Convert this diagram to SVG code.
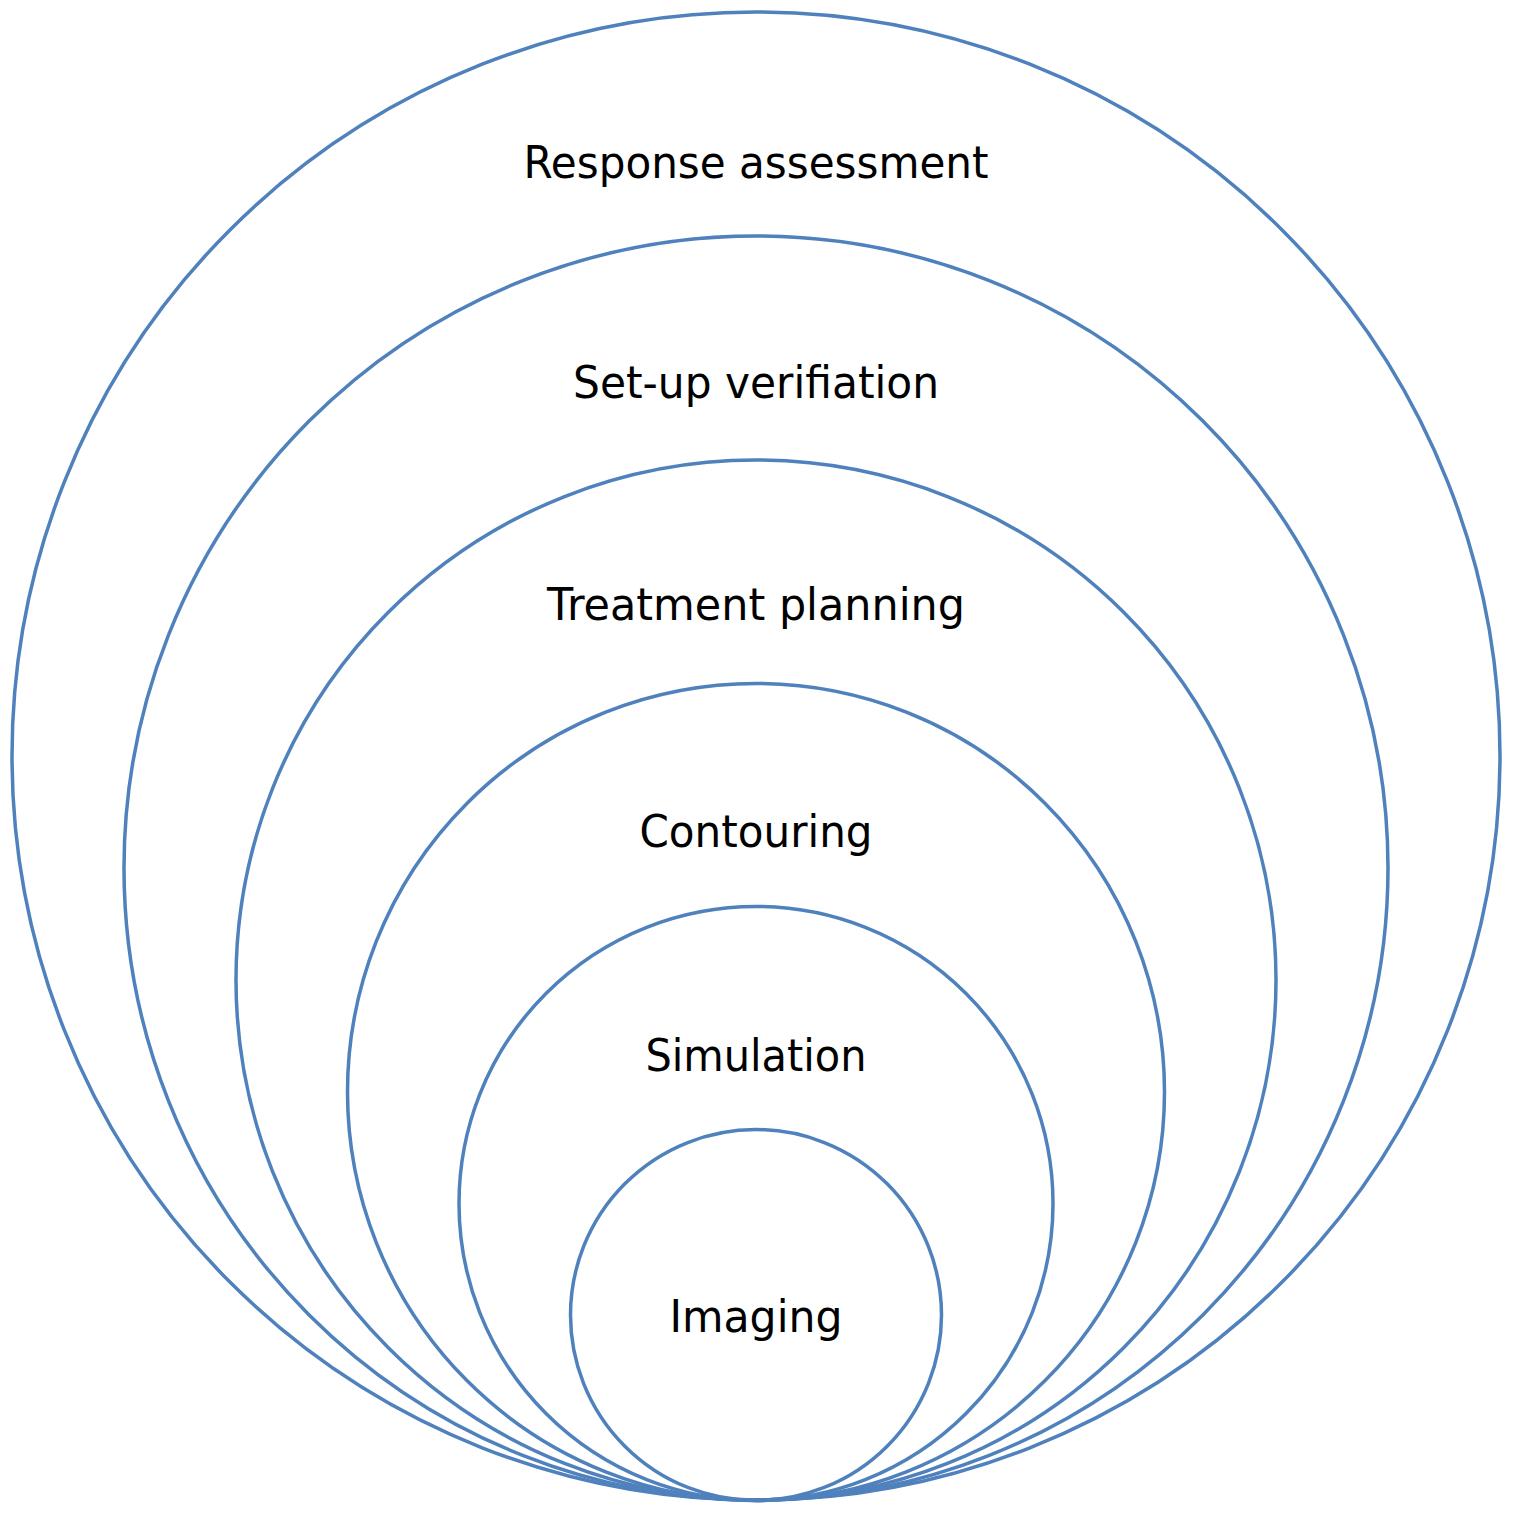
<svg xmlns="http://www.w3.org/2000/svg" width="1514" height="1514" viewBox="0 0 1514 1514">
<style>
circle{fill:none;stroke:#4f81bd;stroke-width:3.5}
text{font-family:"DejaVu Sans",Verdana,sans-serif;font-size:44px;fill:#000;text-anchor:middle}
</style>
<rect width="1514" height="1514" fill="#fff"/>
<g id="response"><circle cx="756" cy="756" r="744"/><text x="756" y="178" textLength="465" lengthAdjust="spacingAndGlyphs">Response assessment</text></g>
<g id="setup"><circle cx="756" cy="868" r="632"/><text x="756" y="398" textLength="366" lengthAdjust="spacingAndGlyphs">Set-up verifiation</text></g>
<g id="treatment"><circle cx="756" cy="980" r="520"/><text x="756" y="620" textLength="418" lengthAdjust="spacingAndGlyphs">Treatment planning</text></g>
<g id="contouring"><circle cx="756" cy="1092" r="408.5"/><text x="756" y="847" textLength="233" lengthAdjust="spacingAndGlyphs">Contouring</text></g>
<g id="simulation"><circle cx="756" cy="1203.5" r="297"/><text x="756" y="1071" textLength="221" lengthAdjust="spacingAndGlyphs">Simulation</text></g>
<g id="imaging"><circle cx="756" cy="1315" r="185.5"/><text x="756" y="1332" textLength="173" lengthAdjust="spacingAndGlyphs">Imaging</text></g>
<g id="connectors"/>
</svg>
